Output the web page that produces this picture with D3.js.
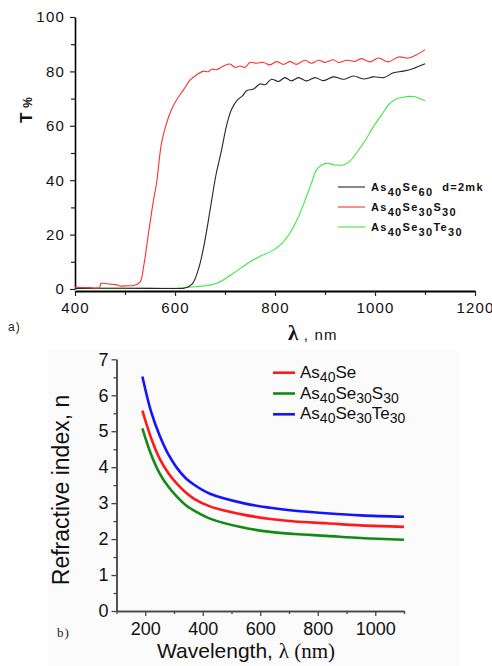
<!DOCTYPE html>
<html>
<head>
<meta charset="utf-8">
<script src="https://cdn.jsdelivr.net/npm/d3@7"></script>
<style>
  body { margin: 0; background: #fff; }
  svg { display: block; font-family: "Liberation Sans", Arial, sans-serif; }
</style>
</head>
<body>
<div id="chart"></div>
<script>
// ---------- panel a) transmission ----------
var tXTicks = [400, 600, 800, 1000, 1200]
var tXMinor = [500, 700, 900, 1100]
var tYTicks = [0, 20, 40, 60, 80, 100]
var tYMinor = [10, 30, 50, 70, 90]

// As40Se60 (black)
var tBlackL = [400, 500, 600, 620, 635, 648, 660, 671, 682, 693, 703, 713, 725, 735, 743, 757, 770, 780, 793, 807, 820, 833, 847, 863, 880, 897, 917, 937, 957, 977, 997, 1017, 1037, 1057, 1077, 1100]
var tBlackT = [0.2, 0.3, 0.2, 0.4, 2, 8, 18, 30, 42, 51, 60, 66, 69.5, 71, 72.9, 73.5, 75.4, 75.1, 77.1, 76.3, 77.7, 76.5, 77.7, 76.5, 77.7, 76.6, 78, 77.1, 78.3, 77.2, 78, 77.7, 79.5, 80.1, 81.1, 82.8]

// As40Se30S30 (red)
var tRedL = [400, 430, 449, 452, 470, 482, 490, 505, 517, 530, 537, 547, 557, 563, 573, 583, 593, 603, 617, 630, 643, 657, 667, 673, 683, 697, 710, 720, 730, 740, 750, 763, 777, 790, 803, 817, 830, 843, 860, 873, 887, 900, 917, 927, 943, 960, 973, 990, 1007, 1027, 1047, 1067, 1083, 1100]
var tRedT = [0.6, 0.5, 0.5, 2, 1.8, 1.6, 1.1, 1.2, 1.3, 2.5, 8, 20.5, 32.7, 38.8, 53.6, 60.9, 66, 69.5, 73.2, 76.8, 78.7, 80.1, 79.9, 80.8, 80.6, 82, 82.7, 81.5, 82, 81.5, 83.3, 83, 83.3, 82.4, 83.6, 82.6, 83.6, 82.6, 84.1, 83, 84.1, 83.3, 84.3, 83.3, 84.1, 83.7, 84.7, 83.5, 84.9, 83.5, 85.3, 84.9, 86.1, 88]

// As40Se30Te30 (green)
var tGreenL = [400, 500, 600, 640, 683, 717, 750, 770, 797, 815, 830, 848, 863, 875, 883, 893, 903, 920, 937, 950, 963, 980, 997, 1015, 1030, 1045, 1057, 1070, 1080, 1090, 1100]
var tGreenT = [0.3, 0.3, 0.3, 0.8, 2, 5.8, 10, 12, 14.3, 17, 20.6, 27, 34, 40, 43.8, 45.5, 46.2, 45.6, 45.6, 47, 50, 54.5, 59.7, 64.5, 68.3, 70, 70.5, 70.8, 70.7, 70, 69.2]

// ---------- panel b) refractive index ----------
var nXTicks = [200, 400, 600, 800, 1000]
var nXMinor = [100, 300, 500, 700, 900, 1100]
var nYTicks = [0, 1, 2, 3, 4, 5, 6, 7]
var nYMinor = [0.5, 1.5, 2.5, 3.5, 4.5, 5.5, 6.5]

var nLambda = [190, 220, 250, 280, 310, 340, 370, 425, 540, 635, 720, 830, 950, 1100]
var nRed   = [5.57, 4.82, 4.24, 3.84, 3.54, 3.30, 3.12, 2.91, 2.68, 2.56, 2.49, 2.44, 2.38, 2.34]
var nGreen = [5.08, 4.36, 3.83, 3.46, 3.18, 2.95, 2.79, 2.57, 2.32, 2.20, 2.14, 2.09, 2.03, 1.98]
var nBlue  = [6.52, 5.55, 4.88, 4.36, 3.98, 3.70, 3.51, 3.26, 3.00, 2.87, 2.79, 2.72, 2.66, 2.62]

var W = 492, H = 666

var svg = d3.select("#chart")
  .append("svg")
  .attr("width", W)
  .attr("height", H)

// helper : text with subscripts, parts = [[text, isSub], ...]
function subText(sel, parts, size, subSize, shift) {
  parts.forEach(function (p, i) {
    var prev = i > 0 ? parts[i - 1][1] : 0
    var dy = 0
    if (p[1] && !prev) dy = shift
    if (!p[1] && prev) dy = -shift
    sel.append("tspan")
      .attr("dy", dy)
      .style("font-size", (p[1] ? subSize : size) + "px")
      .text(p[0])
  })
}

function zip(xs, ys) {
  return xs.map(function (d, i) { return [d, ys[i]] })
}

///////////////////////// PANEL A /////////////////////////
var xa = d3.scaleLinear().domain([400, 1200]).range([75, 475])
var ya = d3.scaleLinear().domain([0, 100]).range([289, 17])

// minor ticks first
svg.append("g")
  .attr("transform", "translate(0,291)")
  .call(d3.axisBottom(xa).tickValues(tXMinor).tickSize(4).tickFormat("").tickSizeOuter(0))
  .call(function (g) { g.select(".domain").remove() })
svg.append("g")
  .attr("transform", "translate(75,0)")
  .call(d3.axisLeft(ya).tickValues(tYMinor).tickSize(4).tickFormat("").tickSizeOuter(0))
  .call(function (g) { g.select(".domain").remove() })

var gxa = svg.append("g")
  .attr("class", "axA")
  .attr("transform", "translate(0,291)")
  .call(d3.axisBottom(xa).tickValues(tXTicks).tickFormat(d3.format("d")).tickSize(5).tickPadding(6).tickSizeOuter(0))
gxa.select(".domain").attr("stroke-width", 2.2)

var gya = svg.append("g")
  .attr("class", "axA")
  .attr("transform", "translate(75,0)")
  .call(d3.axisLeft(ya).tickValues(tYTicks).tickFormat(d3.format("d")).tickSize(5).tickPadding(5).tickSizeOuter(0))
gya.select(".domain").attr("stroke-width", 1.6)

svg.selectAll(".axA text")
  .style("font-size", "15px")
  .style("letter-spacing", "1.2px")
  .attr("fill", "#111")
svg.selectAll(".tick line").attr("stroke", "#222").attr("stroke-width", 1.2)

var lineA = d3.line()
  .x(function (d) { return xa(d[0]) })
  .y(function (d) { return ya(d[1]) })
  .curve(d3.curveCatmullRom.alpha(0.5))

var seriesA = [
  { name: "green", pts: zip(tGreenL, tGreenT), color: "#3ee83e" },
  { name: "black", pts: zip(tBlackL, tBlackT), color: "#262626" },
  { name: "red", pts: zip(tRedL, tRedT), color: "#ff3030" }
]
svg.selectAll(".lineA")
  .data(seriesA)
  .enter()
  .append("path")
  .attr("class", "lineA")
  .attr("fill", "none")
  .attr("stroke", function (d) { return d.color })
  .attr("stroke-width", 1.1)
  .attr("d", function (d) { return lineA(d.pts) })

// legend a)
var legA = [
  { parts: [["As", 0], ["40", 1], ["Se", 0], ["60", 1], ["\u00a0\u00a0d=2mk", 0]], color: "#262626" },
  { parts: [["As", 0], ["40", 1], ["Se", 0], ["30", 1], ["S", 0], ["30", 1]], color: "#ff3030" },
  { parts: [["As", 0], ["40", 1], ["Se", 0], ["30", 1], ["Te", 0], ["30", 1]], color: "#3ee83e" }
]
legA.forEach(function (d, i) {
  var yy = 187 + i * 20
  svg.append("line")
    .attr("x1", 338).attr("x2", 365)
    .attr("y1", yy).attr("y2", yy)
    .attr("stroke", d.color)
    .attr("stroke-width", 1.1)
  var t = svg.append("text")
    .attr("x", 371)
    .attr("y", yy + 4)
    .style("font-weight", "bold")
    .style("letter-spacing", "1.3px")
    .attr("fill", "#111")
  subText(t, d.parts, 11, 11, 4.5)
})

// axis titles a)
svg.append("text")
  .attr("transform", "translate(32,110) rotate(-90)")
  .attr("text-anchor", "middle")
  .style("font-weight", "bold")
  .attr("fill", "#111")
  .call(function (t) {
    t.append("tspan").style("font-size", "17px").text("T ")
    t.append("tspan").style("font-size", "12px").text("%")
  })

svg.append("text")
  .attr("x", 288)
  .attr("y", 340)
  .attr("fill", "#111")
  .call(function (t) {
    t.append("tspan")
      .style("font-family", "'Liberation Serif', serif")
      .style("font-weight", "bold")
      .style("font-size", "21px")
      .text("λ")
    t.append("tspan")
      .style("font-size", "15px")
      .style("letter-spacing", "1.2px")
      .text(" , nm")
  })

svg.append("text")
  .attr("x", 8)
  .attr("y", 331)
  .style("font-size", "12px")
  .style("letter-spacing", "1px")
  .attr("fill", "#222")
  .text("a)")

///////////////////////// PANEL B /////////////////////////
svg.append("rect")
  .attr("x", 48).attr("y", 350)
  .attr("width", 411).attr("height", 316)
  .attr("fill", "#fbfbfb")

var xb = d3.scaleLinear().domain([100, 1100]).range([116.5, 404])
var yb = d3.scaleLinear().domain([0, 7]).range([611, 359.3])

svg.append("g")
  .attr("class", "axB")
  .attr("transform", "translate(0,611)")
  .call(d3.axisBottom(xb).tickValues(nXMinor).tickSize(3).tickFormat("").tickSizeOuter(0))
svg.append("g")
  .attr("class", "axB")
  .attr("transform", "translate(116.5,0)")
  .call(d3.axisLeft(yb).tickValues(nYMinor).tickSize(3).tickFormat("").tickSizeOuter(0))

svg.append("g")
  .attr("class", "axB")
  .attr("transform", "translate(0,611)")
  .call(d3.axisBottom(xb).tickValues(nXTicks).tickFormat(d3.format("d")).tickSize(5).tickPadding(6).tickSizeOuter(0))
svg.append("g")
  .attr("class", "axB")
  .attr("transform", "translate(116.5,0)")
  .call(d3.axisLeft(yb).tickValues(nYTicks).tickFormat(d3.format("d")).tickSize(5).tickPadding(3).tickSizeOuter(0))

svg.selectAll(".axB .domain").attr("stroke", "#444").attr("stroke-width", 1.4)
svg.selectAll(".axB .tick line").attr("stroke", "#444").attr("stroke-width", 1.3)
svg.selectAll(".axB text")
  .style("font-size", "18px")
  .attr("fill", "#111")

var lineB = d3.line()
  .x(function (d) { return xb(d[0]) })
  .y(function (d) { return yb(d[1]) })
  .curve(d3.curveCatmullRom.alpha(0.5))

var seriesB = [
  { parts: [["As", 0], ["40", 1], ["Se", 0]], vals: nRed, color: "#ff1a1a" },
  { parts: [["As", 0], ["40", 1], ["Se", 0], ["30", 1], ["S", 0], ["30", 1]], vals: nGreen, color: "#138a13" },
  { parts: [["As", 0], ["40", 1], ["Se", 0], ["30", 1], ["Te", 0], ["30", 1]], vals: nBlue, color: "#1414ff" }
]
svg.selectAll(".lineB")
  .data(seriesB)
  .enter()
  .append("path")
  .attr("class", "lineB")
  .attr("fill", "none")
  .attr("stroke", function (d) { return d.color })
  .attr("stroke-width", 2.6)
  .attr("d", function (d) { return lineB(zip(nLambda, d.vals)) })

// legend b)
seriesB.forEach(function (d, i) {
  var yy = 372.7 + i * 20.8
  svg.append("line")
    .attr("x1", 273).attr("x2", 295)
    .attr("y1", yy).attr("y2", yy)
    .attr("stroke", d.color)
    .attr("stroke-width", 2.6)
  var t = svg.append("text")
    .attr("x", 300)
    .attr("y", yy + 5)
    .attr("fill", "#111")
  subText(t, d.parts, 17, 14, 4)
})

// axis titles b)
svg.append("text")
  .attr("transform", "translate(69,490) rotate(-90)")
  .attr("text-anchor", "middle")
  .style("font-size", "23px")
  .attr("fill", "#111")
  .text("Refractive index, n")

svg.append("text")
  .attr("x", 157)
  .attr("y", 658)
  .style("font-size", "21px")
  .attr("fill", "#111")
  .call(function (t) {
    t.append("tspan").text("Wavelength, ")
    t.append("tspan")
      .style("font-family", "'Liberation Serif', serif")
      .text("λ (nm)")
  })

svg.append("text")
  .attr("x", 57)
  .attr("y", 637)
  .style("font-family", "'Liberation Serif', serif")
  .style("font-size", "13px")
  .style("letter-spacing", "1px")
  .attr("fill", "#222")
  .text("b)")
</script>
</body>
</html>
